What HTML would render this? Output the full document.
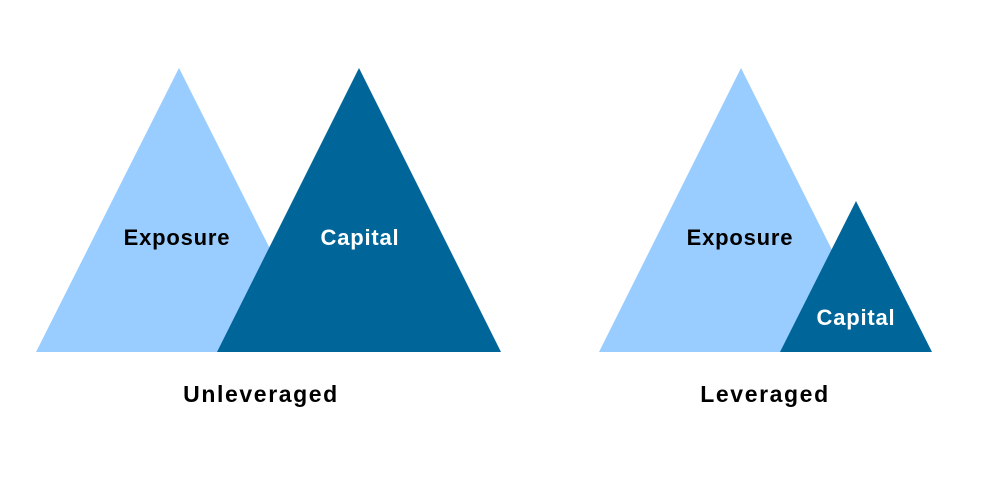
<!DOCTYPE html>
<html><head><meta charset="utf-8"><style>body{margin:0;background:#fff}svg{display:block}</style></head>
<body>
<svg width="1000" height="481" viewBox="0 0 1000 481" xmlns="http://www.w3.org/2000/svg" font-family="Liberation Sans, sans-serif" font-weight="bold" text-anchor="middle">
<rect width="1000" height="481" fill="#fff"/>
<polygon points="179,68 36,352 322,352" fill="#99ccff"/>
<polygon points="359,68 217,352 501,352" fill="#006699"/>
<polygon points="741,68 599,352 883,352" fill="#99ccff"/>
<polygon points="856,201 780,352 932,352" fill="#006699"/>
<text x="177" y="245" font-size="22" letter-spacing="0.8" fill="#000">Exposure</text>
<text x="360" y="245" font-size="22" letter-spacing="0.8" fill="#fff">Capital</text>
<text x="740" y="245" font-size="22" letter-spacing="0.8" fill="#000">Exposure</text>
<text x="856" y="325" font-size="22" letter-spacing="0.8" fill="#fff">Capital</text>
<text x="261" y="402" font-size="23" letter-spacing="1.6" fill="#000">Unleveraged</text>
<text x="765" y="402" font-size="23" letter-spacing="1.6" fill="#000">Leveraged</text>
</svg>
</body></html>
